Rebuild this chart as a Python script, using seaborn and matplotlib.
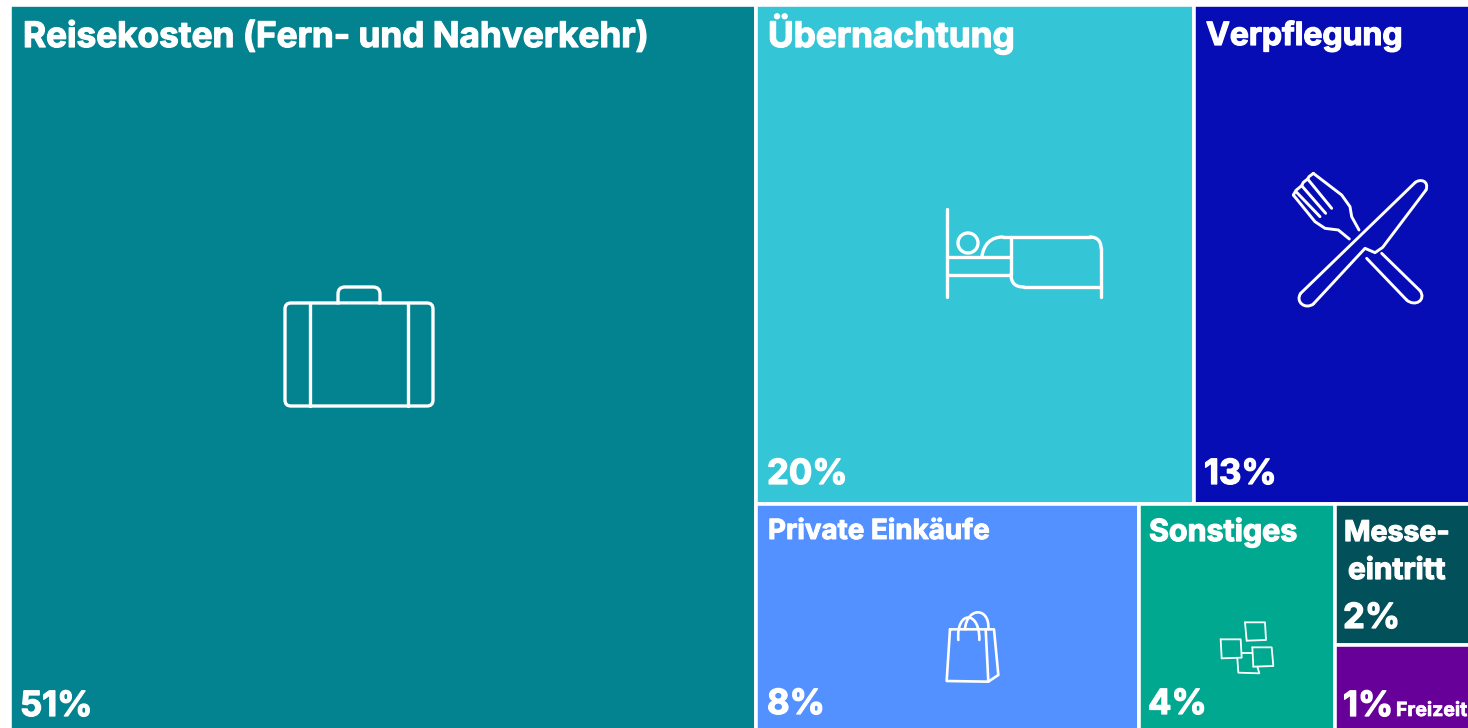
import numpy as np
import matplotlib
matplotlib.use("Agg")
import matplotlib.pyplot as plt
import matplotlib.patheffects as pe
import seaborn as sns
from matplotlib.patches import FancyBboxPatch, Circle
from matplotlib.path import Path
from matplotlib.patches import PathPatch

# Werte aus dem Bild
categories = ["Reisekosten (Fern- und Nahverkehr)", "Übernachtung", "Verpflegung",
              "Private Einkäufe", "Sonstiges", "Messe-\neintritt", "Freizeit"]
percent_labels = ["51%", "20%", "13%", "8%", "4%", "2%", "1%"]
areas = [51, 20.6, 13, 8.2, 4.2, 1.8, 1.1]  # Flächen geschätzt
colors = ["#03828F", "#34C6D6", "#060DB5", "#5291FF", "#00A88F", "#01505A", "#660099"]

sns.set_theme(style="white")
plt.rcParams["font.family"] = ["Inter", "Liberation Sans", "DejaVu Sans"]

W, H = 1468, 728
fig = plt.figure(figsize=(W / 100, H / 100), dpi=100, facecolor="white")
ax = fig.add_axes([10 / W, -3 / H, (W + 3 - 10) / W, (H - 5 + 3) / H])

# Treemap-Layout aus den Flächen
total = sum(areas)
rest = sum(areas[1:])
low = sum(areas[3:])
left_w = areas[0] / total
right_w = 1 - left_w
top_h = (areas[1] + areas[2]) / rest
col_w = (areas[5] + areas[6]) / low * right_w
w3 = areas[3] / low * right_w
w4 = areas[4] / low * right_w
w1 = areas[1] / (areas[1] + areas[2]) * right_w
h5 = areas[5] / (areas[5] + areas[6]) * (1 - top_h)

lefts = [0, left_w, left_w + w1, left_w, left_w + w3, left_w + w3 + w4, left_w + w3 + w4]
bottoms = [0, 0, 0, top_h, top_h, top_h, top_h + h5]
widths = [left_w, w1, right_w - w1, w3, w4, col_w, col_w]
heights = [1, top_h, top_h, 1 - top_h, 1 - top_h, h5, 1 - top_h - h5]

ax.bar(lefts, heights, widths, bottom=bottoms, align="edge", color=sns.color_palette(colors),
       edgecolor="white", linewidth=2.6)
ax.set_xlim(0, 1)
ax.set_ylim(1, 0)
ax.axis("off")

# Overlay in Pixeln für Texte und Icons
ov = fig.add_axes([0, 0, 1, 1])
ov.set_xlim(0, W)
ov.set_ylim(H, 0)
ov.axis("off")
ov.patch.set_alpha(0)


def label(x, y, s, size, stroke=0.9):
    ov.text(x, y, s, color="white", fontsize=size, fontweight="bold", va="baseline", ha="left",
            path_effects=[pe.withStroke(linewidth=stroke, foreground="white")])


label(23, 47, categories[0], 25.3)
label(768, 47, categories[1], 25.3)
label(1206, 45, categories[2], 23)
label(768, 539, categories[3], 20, 0.7)
label(1149, 541, categories[4], 21.9)
label(1344, 541, "Messe-", 20.5)
label(1348, 579, "eintritt", 21.5)
label(1396, 716, categories[6], 14, 0.5)

label(20, 716, percent_labels[0], 25)
label(767, 484, percent_labels[1], 25)
label(1204, 484, percent_labels[2], 25)
label(767, 714, percent_labels[3], 25)
label(1148, 714, percent_labels[4], 25)
label(1343, 628, percent_labels[5], 25)
label(1343, 716, percent_labels[6], 25)


def poly(points, lw=2.4, closed=False):
    pts = np.array(points, dtype=float)
    ov.plot(pts[:, 0], pts[:, 1], color="white", lw=lw, solid_capstyle="round",
            solid_joinstyle="round")
    if closed:
        ov.plot(pts[[-1, 0], 0], pts[[-1, 0], 1], color="white", lw=lw, solid_capstyle="round")


def curve(verts, lw=2.4):
    codes = [Path.MOVETO] + [Path.CURVE4] * (len(verts) - 1)
    ov.add_patch(PathPatch(Path(verts, codes), fc="none", ec="white", lw=lw, capstyle="round"))


def rbox(x0, y0, x1, y1, r, lw=2.4):
    ov.add_patch(FancyBboxPatch((x0 + r, y0 + r), x1 - x0 - 2 * r, y1 - y0 - 2 * r,
                                boxstyle=f"round,pad={r},rounding_size={r}",
                                fc="none", ec="white", lw=lw))


# Koffer
rbox(285, 303, 433, 406, 6)
poly([(310, 303), (310, 406)])
poly([(408, 303), (408, 406)])
rbox(338, 287, 380, 310, 7)
ov.fill([336, 382, 382, 336], [304.5, 304.5, 312, 312], color=colors[0], zorder=3)

# Bett
poly([(947, 209), (947, 297)])
ov.add_patch(Circle((968, 243), 10, fc="none", ec="white", lw=2.4))
poly([(947, 257), (1011, 257)])
poly([(947, 275), (1011, 275)])
curve([(982, 256), (984, 244), (991, 237), (1003, 237)])
poly([(1003, 237), (1090, 237)])
curve([(1090, 237), (1097, 237), (1101, 241), (1101, 248)])
poly([(1101, 248), (1101, 297)])
poly([(1011, 237), (1011, 274)])
curve([(1011, 274), (1011, 283), (1015, 287), (1024, 287)])
poly([(1024, 287), (1101, 287)])


# Besteck, aus dem Zoom übernommen
def z3(pts):
    return [(1270 + a / 3, 160 + b / 3) for a, b in pts]


def z6(pts):
    return [(1285 + a / 3, 165 + b / 3) for a, b in pts]


poly(z3([(92, 400), (435, 68)]), 2.1)
curve(z3([(435, 68), (450, 55), (478, 62), (468, 90)]), 2.1)
poly(z3([(468, 90), (338, 262), (315, 278), (285, 265), (130, 432)]), 2.1)
curve(z3([(130, 432), (105, 450), (75, 425), (92, 400)]), 2.1)

poly(z6([(85, 25), (170, 90), (195, 125), (200, 155), (222, 195)]), 2.1)
poly(z6([(25, 90), (90, 170), (120, 190), (160, 195), (193, 222)]), 2.1)
poly(z6([(25, 90), (33, 76), (50, 62), (55, 52), (68, 42), (72, 35), (85, 25)]), 2.1)
poly(z6([(68, 42), (140, 130)]), 2.1)
poly(z6([(50, 62), (122, 145)]), 2.1)
poly(z6([(35, 82), (105, 155)]), 2.1)
poly(z3([(290, 295), (410, 420)]), 2.1)
curve(z3([(410, 420), (435, 442), (470, 420), (450, 392)]), 2.1)
poly(z3([(450, 392), (335, 280)]), 2.1)


# Tasche
def z4(pts):
    return [(920 + a / 3, 600 + b / 3) for a, b in pts]


poly(z4([(90, 88), (197, 88), (205, 245), (80, 243), (90, 88)]), 1.9)
poly(z4([(197, 88), (222, 88), (235, 225), (205, 245)]), 1.9)
curve(z4([(115, 120), (108, 30), (180, 30), (178, 120)]), 1.9)
curve(z4([(135, 88), (140, 20), (210, 20), (205, 88)]), 1.9)


# Zettel
def z5(pts):
    return [(1200 + a / 3, 610 + b / 3) for a, b in pts]


poly(z5([(135, 37), (195, 37), (198, 90), (140, 92)]), 1.3, closed=True)
poly(z5([(62, 88), (122, 88), (125, 143), (65, 145)]), 1.3, closed=True)
poly(z5([(157, 112), (215, 112), (220, 168), (160, 170)]), 1.3, closed=True)
poly(z5([(112, 145), (115, 188), (178, 190), (172, 170)]), 1.3)
poly(z5([(125, 130), (157, 130)]), 1.3)

fig.savefig("out.png", dpi=100, facecolor="white")
